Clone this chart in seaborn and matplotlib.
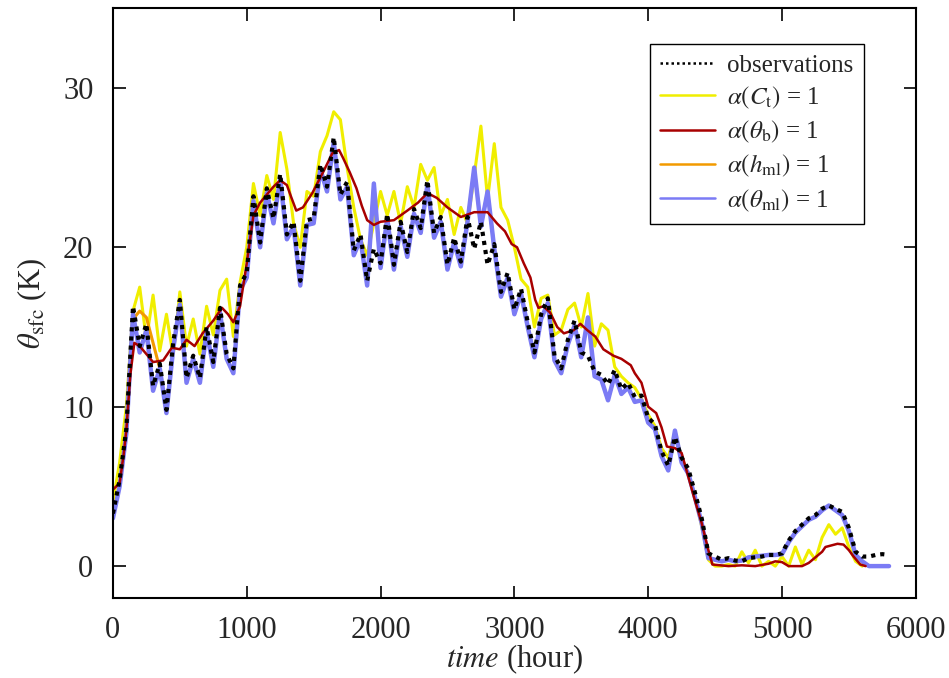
import numpy as np
import pandas as pd
import matplotlib
matplotlib.use('Agg')
import matplotlib.pyplot as plt
import seaborn as sns

sns.set_style('ticks')
plt.rcParams['font.family'] = ['Liberation Serif', 'DejaVu Serif']
plt.rcParams['mathtext.fontset'] = 'stix'

time_50 = np.arange(0, 5801, 50)

observations = [
    3.3, 5.4, 8.6, 16.3, 13.8, 15.2, 11.3, 12.7, 9.8, 14.0,
    16.7, 11.8, 13.2, 11.8, 15.0, 12.8, 16.2, 13.3, 12.4, 17.6,
    18.4, 23.2, 20.3, 23.7, 21.8, 24.6, 20.8, 21.6, 17.9, 21.7,
    21.8, 25.2, 23.8, 26.9, 23.3, 24.1, 19.8, 20.8, 17.9, 19.9,
    19.0, 22.1, 18.9, 21.6, 19.7, 22.4, 21.2, 24.2, 20.9, 21.9,
    18.9, 20.6, 19.1, 21.9, 19.9, 21.6, 18.9, 20.2, 17.2, 18.4,
    16.1, 17.4, 15.3, 13.4, 15.8, 16.8, 13.2, 12.4, 14.2, 15.4,
    13.4, 13.2, 12.2, 12.0, 11.4, 12.3, 11.1, 11.5, 10.6, 10.7,
    9.3, 8.9, 7.2, 6.3, 8.1, 6.8, 6.1, 4.6, 3.0, 0.8,
    0.6, 0.4, 0.5, 0.35, 0.3, 0.5, 0.55, 0.6, 0.7, 0.7,
    0.8, 1.6, 2.2, 2.6, 3.0, 3.2, 3.6, 3.8, 3.6, 3.4,
    2.4, 0.9, 0.6, 0.6, 0.7, 0.75, 0.7]

theta_ml = [
    3.0, 5.0, 8.3, 15.8, 13.4, 14.8, 11.0, 12.4, 9.6, 13.6,
    16.4, 11.5, 13.0, 11.5, 14.7, 12.5, 15.9, 13.0, 12.1, 17.3,
    18.1, 22.9, 20.0, 23.4, 21.5, 24.3, 20.5, 21.3, 17.6, 21.4,
    21.5, 24.9, 23.5, 26.6, 23.0, 23.8, 19.5, 20.5, 17.6, 24.0,
    18.7, 21.8, 18.6, 21.3, 19.4, 22.1, 20.9, 23.9, 20.6, 21.6,
    18.6, 20.3, 18.8, 21.6, 25.0, 21.3, 23.5, 19.9, 16.9, 18.1,
    15.8, 17.1, 15.0, 13.1, 15.5, 16.5, 12.9, 12.1, 13.9, 15.1,
    13.1, 15.6, 11.9, 11.7, 10.4, 12.0, 10.8, 11.2, 10.3, 10.4,
    9.0, 8.6, 6.9, 6.0, 8.5, 6.5, 5.8, 4.3, 2.7, 0.5,
    0.4, 0.3, 0.4, 0.3, 0.35, 0.55, 0.6, 0.65, 0.7, 0.7,
    0.75, 1.5, 2.1, 2.5, 2.9, 3.1, 3.5, 3.8, 3.5, 3.2,
    2.2, 0.7, 0.3, 0.0, 0.0, 0.0, 0.0]

# h_ml run lies under theta_ml almost everywhere, only differs early on
h_ml = list(theta_ml)
h_ml[3:7] = [15.5, 16.0, 15.6, 14.0]

time_ct = np.arange(0, 5601, 50)
c_t = [
    4.0, 6.5, 10.0, 16.0, 17.5, 14.2, 17.0, 13.5, 15.8, 13.2,
    17.2, 13.8, 15.5, 13.3, 16.3, 14.5, 17.3, 18.0, 14.4, 17.8,
    20.0, 24.0, 22.0, 24.5, 23.0, 27.2, 24.9, 21.5, 20.0, 23.5,
    23.2, 26.0, 27.0, 28.5, 28.0, 25.0, 22.5, 20.5, 19.5, 21.5,
    23.5, 22.0, 23.5, 21.5, 23.8, 22.5, 25.2, 24.2, 25.0, 22.0,
    23.0, 20.8, 22.5, 21.5, 24.5, 27.6, 23.0, 26.5, 22.5, 21.7,
    20.0, 18.0, 17.5, 15.0, 16.8, 17.0, 14.5, 14.8, 16.1, 16.5,
    15.0, 17.1, 13.8, 15.2, 14.8, 12.5, 11.9, 11.5, 11.2, 10.5,
    9.5, 8.8, 7.4, 6.8, 8.4, 6.8, 5.8, 4.3, 2.5, 0.4,
    0.0, 0.0, 0.1, 0.0, 0.9, 0.2, 1.0, 0.0, 0.3, 0.0,
    0.6, 0.0, 1.2, 0.1, 1.0, 0.4, 1.8, 2.6, 2.0, 2.4,
    1.2, 0.3, 0.0]

time_tb = [0, 50, 80, 100, 130, 160, 200, 250, 300, 375, 440, 500, 550, 610, 670,
           750, 815, 860, 900, 950, 1000, 1050, 1100, 1150, 1200, 1250, 1300, 1330,
           1370, 1420, 1490, 1570, 1640, 1690, 1720, 1770, 1820, 1860, 1900, 1950,
           2000, 2100, 2200, 2280, 2350, 2420, 2500, 2600, 2700, 2800, 2870, 2930,
           2980, 3020, 3070, 3120, 3156, 3180, 3216, 3268, 3320, 3370, 3444, 3493,
           3545, 3605, 3665, 3740, 3800, 3870, 3900, 3950, 4000, 4060, 4100, 4140,
           4200, 4250, 4300, 4350, 4400, 4450, 4480, 4600, 4700, 4800, 4900, 4950,
           5000, 5050, 5150, 5200, 5250, 5300, 5325, 5415, 5460, 5500, 5535, 5585, 5625]
theta_b = [4.8, 5.2, 7.0, 8.5, 12.0, 14.0, 13.8, 13.3, 12.8, 12.9, 13.7, 13.6, 14.2, 13.8, 14.6,
           15.4, 16.2, 15.8, 15.3, 16.3, 19.0, 22.0, 22.8, 23.3, 23.8, 24.2, 23.9, 23.2,
           22.3, 22.5, 23.4, 24.7, 25.9, 26.1, 25.6, 24.7, 23.7, 22.6, 21.7, 21.4,
           21.6, 21.7, 22.3, 22.8, 23.4, 23.1, 22.5, 21.9, 22.2, 22.2, 21.5, 21.0,
           20.2, 20.0, 19.0, 18.1, 16.7, 16.2, 16.3, 15.9, 15.0, 14.6, 14.8, 15.2,
           14.8, 14.4, 13.6, 13.2, 13.0, 12.6, 12.1, 11.5, 10.0, 9.6, 8.7, 7.5,
           7.4, 7.1, 5.6, 4.1, 2.7, 1.0, 0.1, 0.0, 0.05, 0.0, 0.15, 0.3,
           0.25, 0.0, 0.0, 0.2, 0.55, 0.9, 1.2, 1.4, 1.35, 1.0, 0.6, 0.1, 0.0]

df_obs = pd.DataFrame({'time': time_50, 'theta': observations})
df_ml = pd.DataFrame({'time': time_50, 'theta': theta_ml})
df_h = pd.DataFrame({'time': time_50, 'theta': h_ml})
df_ct = pd.DataFrame({'time': time_ct, 'theta': c_t})
df_tb = pd.DataFrame({'time': time_tb, 'theta': theta_b})

fig = plt.figure(figsize=(9.49, 6.78), dpi=100)
ax = fig.add_axes([0.119, 0.118, 0.846, 0.870])

kw = dict(x='time', y='theta', ax=ax, estimator=None, sort=False)
sns.lineplot(data=df_ct, color='#f0ee00', lw=2.2, zorder=2.0, **kw)
sns.lineplot(data=df_h, color='#f29a00', lw=2.2, zorder=2.1, **kw)
sns.lineplot(data=df_ml, color='#7b7bf5', lw=3.2, zorder=2.2, **kw)
sns.lineplot(data=df_tb, color='#a80000', lw=1.8, zorder=2.3, **kw)
sns.lineplot(data=df_obs, color='black', lw=3.0, linestyle=(0, (1, 1.2)), zorder=2.4, **kw)

ax.set_xlim(0, 6000)
ax.set_ylim(-2, 35)
ax.set_xticks(range(0, 6001, 1000))
ax.set_yticks([0, 10, 20, 30])
ax.tick_params(direction='in', length=9, width=1.4, labelsize=22,
               top=True, right=True)
ax.tick_params(axis='x', pad=13)
ax.tick_params(axis='y', pad=14)
for s in ax.spines.values():
    s.set_linewidth(1.5)
    s.set_color('black')

ax.set_xlabel(r'$\mathit{time}$ (hour)', fontsize=22, labelpad=-2)
ax.set_ylabel(r'$\theta_{\rm sfc}$ (K)', fontsize=22, labelpad=10)

lines = ax.get_lines()
handles = [lines[4], lines[0], lines[3], lines[1], lines[2]]
labels = ['observations', r'$\alpha(C_{\rm t})$ = 1', r'$\alpha(\theta_{\rm b})$ = 1',
          r'$\alpha(h_{\rm ml})$ = 1', r'$\alpha(\theta_{\rm ml})$ = 1']
leg = ax.legend(handles, labels, loc='upper right', bbox_to_anchor=(0.935, 0.939),
                borderaxespad=0, frameon=True, fancybox=False, framealpha=1,
                edgecolor='black', fontsize=18, handlelength=2.2,
                labelspacing=0.32, borderpad=0.4, handletextpad=0.5)
leg.get_frame().set_linewidth(1.0)
for h in leg.get_lines():
    h.set_linewidth(1.8)

fig.savefig('out.png', dpi=100)
